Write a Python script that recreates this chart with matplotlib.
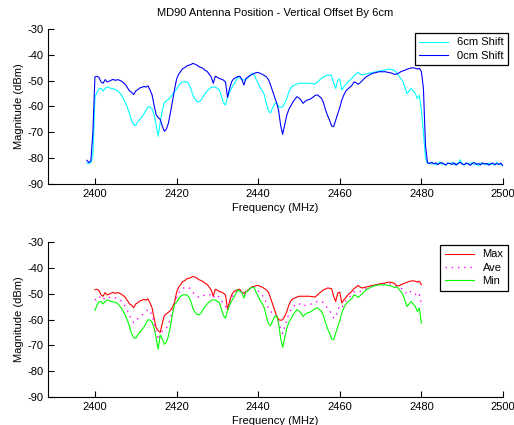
"""MD90 antenna position plot: spectrum with and without the 6cm vertical
offset, plus the max / average / min envelope of both traces."""

import numpy as np
import matplotlib
matplotlib.use("Agg")
import matplotlib.pyplot as plt

plt.rcParams['font.family'] = ['Liberation Sans', 'DejaVu Sans']
plt.rcParams['font.size'] = 8
# MATLAB prints a plain hyphen for negative ticks
plt.rcParams['axes.unicode_minus'] = False

# Frequency grid of the sweep (MHz), 0.5 MHz steps
freq = np.arange(2398.0, 2500.01, 0.5)

# Measured magnitude (dBm), 0cm shift
shift_0cm = [
    -80.8, -81.7, -81.0, -70.0, -48.5, -48.3, -48.8, -50.5, -51.0, -49.6,
    -50.5, -50.2, -49.8, -49.5, -49.9, -49.6, -49.8, -50.2, -50.8, -51.5,
    -52.8, -54.0, -54.5, -55.4, -54.0, -53.5, -52.8, -52.6, -52.2, -52.5,
    -52.0, -53.6, -55.5, -59.5, -63.2, -64.3, -65.0, -67.5, -69.6, -68.8,
    -66.5, -62.5, -58.0, -53.5, -49.5, -47.5, -46.5, -45.3, -45.0, -44.3,
    -44.0, -43.8, -43.3, -43.6, -44.0, -44.6, -44.9, -45.3, -46.0, -46.4,
    -47.5, -48.6, -51.0, -48.3, -48.7, -49.2, -49.4, -49.8, -50.5, -56.5,
    -53.0, -50.4, -49.3, -48.8, -48.4, -48.3, -49.5, -51.7, -49.2, -48.6,
    -48.0, -47.6, -47.2, -46.9, -46.8, -47.2, -47.5, -48.0, -48.5, -49.5,
    -51.5, -53.8, -56.2, -58.5, -61.5, -67.2, -70.8, -67.2, -63.5, -61.2,
    -59.8, -58.3, -57.2, -56.2, -56.7, -57.5, -58.8, -58.0, -57.5, -57.3,
    -56.9, -56.3, -55.7, -55.5, -56.1, -56.8, -58.5, -61.2, -63.5, -65.3,
    -67.5, -67.8, -65.3, -62.8, -60.5, -57.5, -55.5, -54.0, -53.2, -52.5,
    -51.8, -50.5, -50.8, -51.4, -50.8, -50.0, -49.2, -48.5, -48.0, -47.6,
    -47.2, -47.0, -46.8, -46.6, -46.5, -46.6, -46.5, -46.7, -46.8, -47.0,
    -47.3, -47.6, -47.4, -47.0, -46.5, -46.2, -45.9, -45.6, -45.3, -45.1,
    -45.0, -45.2, -45.5, -45.2, -46.5, -53.0, -75.0, -81.8, -82.0,
    -81.6, -82.2, -81.8, -82.5, -82.0, -81.7, -82.3, -82.6, -81.9, -82.1,
    -82.4, -81.8, -82.7, -82.0, -81.6, -82.3, -82.5, -81.9, -82.2, -82.8,
    -82.0, -81.7, -82.4, -82.1, -82.6, -81.8, -82.3, -82.0, -82.7, -82.2,
    -81.9, -82.5, -82.1, -82.4, -81.9, -83.0,
]

# Measured magnitude (dBm), 6cm shift
shift_6cm = [
    -82.0, -82.0, -81.8, -79.0, -56.5, -54.5, -53.2, -53.0, -54.0, -53.0,
    -52.4, -52.7, -53.0, -53.2, -53.4, -53.8, -54.6, -55.6, -57.0, -58.5,
    -60.5, -63.0, -65.5, -67.0, -67.3, -65.9, -65.0, -64.0, -63.0, -61.5,
    -60.1, -60.2, -61.0, -63.3, -67.2, -71.5, -66.0, -61.5, -58.5, -57.8,
    -57.2, -56.5, -55.2, -54.2, -53.4, -52.0, -51.0, -50.5, -50.4, -50.5,
    -51.2, -53.0, -55.6, -57.2, -58.0, -58.2, -57.5, -56.2, -55.0, -54.0,
    -53.2, -52.6, -52.4, -52.5, -53.0, -53.6, -56.0, -58.5, -59.5, -56.2,
    -54.5, -52.8, -51.5, -50.2, -48.5, -49.0, -49.6, -49.8, -49.3, -48.9,
    -48.0, -47.3, -47.5, -49.5, -51.0, -52.8, -53.8, -55.5, -58.8, -61.5,
    -62.5, -60.7, -59.0, -58.5, -60.0, -60.3, -60.1, -58.8, -57.0, -54.5,
    -52.8, -52.0, -51.7, -51.3, -51.0, -51.0, -51.0, -51.0, -51.0, -51.0,
    -51.1, -51.2, -51.3, -50.5, -49.8, -49.2, -48.5, -48.2, -47.8, -47.9,
    -48.1, -51.0, -53.0, -49.8, -49.4, -53.6, -52.4, -51.5, -50.4, -49.8,
    -49.0, -48.0, -47.5, -46.8, -47.5, -47.8, -47.6, -47.4, -47.2, -47.0,
    -46.8, -46.7, -46.5, -46.3, -46.2, -46.0, -45.9, -45.7, -45.5, -45.6,
    -45.8, -46.2, -47.0, -48.2, -49.3, -50.4, -52.8, -55.0, -54.0, -53.0,
    -54.0, -54.9, -56.9, -55.6, -61.4, -70.0, -80.0, -82.0, -82.0,
    -82.3, -81.9, -82.6, -82.0, -81.5, -82.4, -82.1, -82.8, -81.8, -82.2,
    -81.6, -82.5, -82.0, -82.3, -80.6, -82.1, -82.7, -81.9, -82.4, -82.0,
    -81.7, -82.6, -82.2, -82.9, -81.8, -82.3, -82.1, -82.6, -81.9, -82.4,
    -82.2, -82.7, -81.6, -82.3, -82.5, -82.8,
]

# Band used for the envelope plot
band_lo, band_hi = 2400.0, 2480.0

y_ticks = [-30, -40, -50, -60, -70, -80, -90]
x_ticks = [2400, 2420, 2440, 2460, 2480, 2500]


def style_axes(ax):
    """MATLAB look: box off, inward ticks, fixed limits."""
    ax.set_xlim(2388.5, 2500)
    ax.set_ylim(-90, -30)
    ax.set_xticks(x_ticks)
    ax.set_yticks(y_ticks)
    ax.spines['top'].set_visible(False)
    ax.spines['right'].set_visible(False)
    ax.tick_params(direction='in', length=4, width=0.8, labelsize=8)
    ax.set_xlabel("Frequency (MHz)", fontsize=8, labelpad=3)
    ax.set_ylabel("Magnitude (dBm)", fontsize=8, labelpad=2)


def add_legend(ax, top_px):
    """Square black-edged legend, right edge a bit past the axes."""
    leg = ax.legend(loc='upper right',
                    bbox_to_anchor=(508 / 514, 1 - top_px / 425),
                    bbox_transform=fig.transFigure, borderaxespad=0,
                    fancybox=False, edgecolor='black', framealpha=1,
                    fontsize=8, handlelength=2.6, borderpad=0.4,
                    labelspacing=0.3)
    leg.get_frame().set_linewidth(0.9)


s0 = np.array(shift_0cm)
s6 = np.array(shift_6cm)

# Envelope of the two traces inside the band
in_band = (freq >= band_lo) & (freq <= band_hi)
f_band = freq[in_band]
env_max = np.maximum(s0, s6)[in_band]
env_min = np.minimum(s0, s6)[in_band]
env_ave = ((s0 + s6) / 2)[in_band]

fig = plt.figure(figsize=(5.14, 4.25), dpi=100)

# Top plot: the two raw traces
ax1 = fig.add_axes([48 / 514, 1 - 184 / 425, 455 / 514, 155 / 425])
ax1.plot(freq, s6, color='#00ffff', lw=0.8, label="6cm Shift")
ax1.plot(freq, s0, color='#0000ff', lw=0.8, label="0cm Shift")
style_axes(ax1)
ax1.set_title("MD90 Antenna Position - Vertical Offset By 6cm", fontsize=8, pad=9)
add_legend(ax1, 33)

# Bottom plot: max / average / min envelope
ax2 = fig.add_axes([48 / 514, 1 - 397 / 425, 455 / 514, 155 / 425])
ax2.plot(f_band, env_max, color='#ff0000', lw=0.8, label="Max")
ax2.plot(f_band, env_ave, color='#ff00ff', lw=1.0, ls=(0, (1, 3.5)), label="Ave")
ax2.plot(f_band, env_min, color='#00ff00', lw=0.8, label="Min")
style_axes(ax2)
add_legend(ax2, 245)

fig.savefig("out.png", dpi=100)
